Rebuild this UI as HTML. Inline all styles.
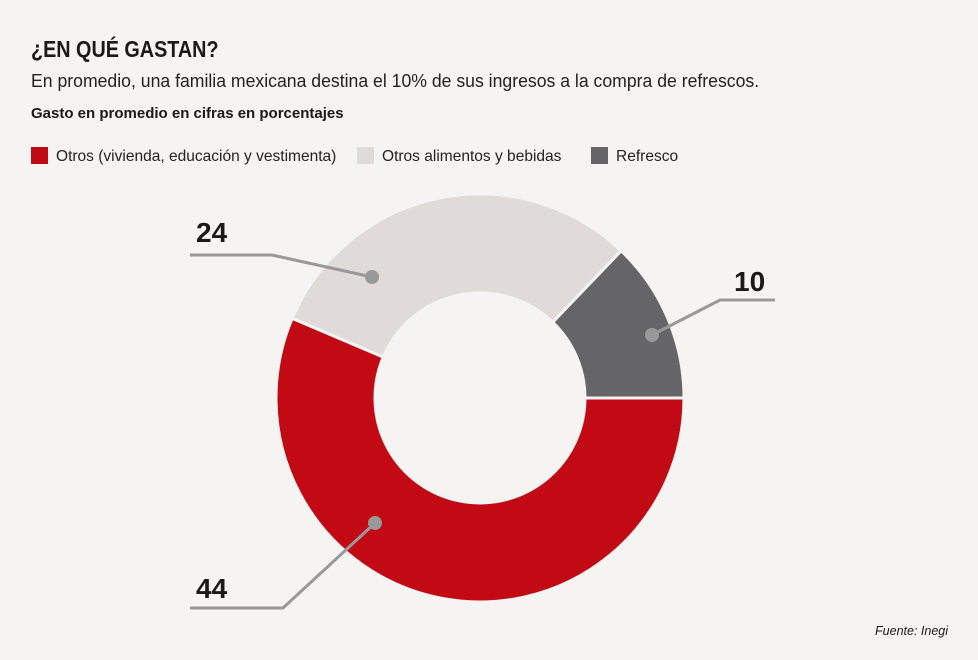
<!DOCTYPE html>
<html><head><meta charset="utf-8"><style>
body{margin:0;background:#f5f4f2;}
.w{position:relative;width:978px;height:660px;background:#f5f4f2;font-family:"Liberation Sans",sans-serif;color:#1a1a1a;overflow:hidden}
.t{position:absolute;left:31px;top:36px;font-size:23px;font-weight:bold;transform:scaleX(0.86);transform-origin:left top;white-space:nowrap}
.s{position:absolute;left:31px;top:70px;font-size:18.5px;color:#222;transform:scaleX(0.953);transform-origin:left top;white-space:nowrap}
.g{position:absolute;left:31px;top:105px;font-size:15px;font-weight:bold}
.l{position:absolute;top:147px;font-size:16px;color:#222;white-space:nowrap}
.l i{display:inline-block;width:17px;height:17px;vertical-align:-3px;margin-right:8px}
.l span{display:inline-block;transform:scaleX(0.97);transform-origin:left top}
.f{position:absolute;right:30px;top:624px;font-size:12.5px;font-style:italic}
</style></head><body><div class="w">
<div class="t">¿EN QUÉ GASTAN?</div>
<div class="s">En promedio, una familia mexicana destina el 10% de sus ingresos a la compra de refrescos.</div>
<div class="g">Gasto en promedio en cifras en porcentajes</div>
<div class="l" style="left:31px"><i style="background:#c10a14"></i><span>Otros (vivienda, educación y vestimenta)</span></div>
<div class="l" style="left:357px"><i style="background:#e0dbd8"></i><span>Otros alimentos y bebidas</span></div>
<div class="l" style="left:591px"><i style="background:#656567"></i><span>Refresco</span></div>
<svg width="978" height="660" style="position:absolute;left:0;top:0">
<g stroke="#f5f4f2" stroke-width="3">
<path d="M684,398 A204,204 0 1 1 292.2,318.3 L383.3,357 A105,105 0 1 0 585,398 Z" fill="#c10a14"/>
<path d="M292.2,318.3 A204,204 0 0 1 621.2,250.8 L552.7,322.2 A105,105 0 0 0 383.3,357 Z" fill="#e0dbd8"/>
<path d="M621.2,250.8 A204,204 0 0 1 684,398 L585,398 A105,105 0 0 0 552.7,322.2 Z" fill="#656567"/>
</g>
<g stroke="#999" stroke-width="3" fill="none">
<polyline points="190,255 272,255 372,277"/>
<polyline points="775,300 720,300 652,335"/>
<polyline points="190,608 283,608 375,523"/>
</g>
<g fill="#999"><circle cx="372" cy="277" r="7"/><circle cx="652" cy="335" r="7"/><circle cx="375" cy="523" r="7"/></g>
<g font-family="Liberation Sans,sans-serif" font-weight="bold" font-size="28" fill="#1a1a1a">
<text x="196" y="242">24</text><text x="734" y="291">10</text><text x="196" y="598">44</text>
</g>
</svg>
<div class="f">Fuente: Inegi</div>
</div></body></html>
